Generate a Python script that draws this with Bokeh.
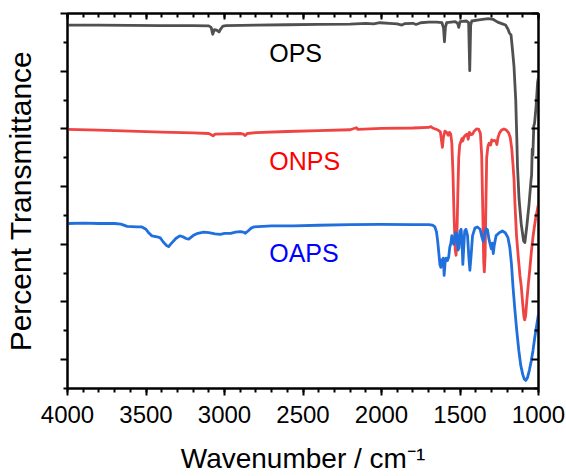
from bokeh.plotting import figure
from bokeh.models import Range1d, FixedTicker, LinearAxis, Label, CustomJSTickFormatter
from bokeh.embed import file_html
from bokeh.resources import INLINE

# ---------------- data ----------------
ops_wavenumber = [4000, 3800, 3600, 3400, 3200, 3100, 3085, 3075, 3065, 3050, 3035, 3025, 3010, 2990,
                  2800, 2600, 2400, 2200, 2100, 2050, 2010, 1950, 1900, 1870, 1850, 1800, 1780, 1750,
                  1700, 1650, 1615, 1605, 1599, 1593, 1585, 1530, 1515, 1508, 1500, 1460, 1445, 1438,
                  1432, 1425, 1380, 1320, 1290, 1260, 1230, 1210, 1195, 1185, 1175, 1165, 1156, 1145,
                  1138, 1134, 1124, 1110, 1095, 1087, 1075, 1060, 1048, 1044, 1040, 1036, 1030, 1025,
                  1015, 1006, 1000]
ops_transmittance = [68.0, 68.0, 67.95, 67.9, 67.9, 67.85, 67.6, 66.4, 67.2, 67.1, 66.8, 67.3, 67.8, 67.9,
                     68.0, 68.05, 68.1, 68.15, 68.3, 68.2, 68.4, 68.3, 68.2, 68.0, 68.25, 68.3, 68.1, 68.4,
                     68.5, 68.5, 68.4, 67.5, 65.1, 67.6, 68.4, 68.6, 68.3, 67.6, 68.6, 68.7, 68.4, 60.1,
                     68.0, 68.7, 68.9, 69.1, 69.0, 68.5, 68.2, 68.0, 67.3, 66.6, 66.3, 63.5, 60.8, 55.0,
                     48.2, 43.6, 37.9, 33.5, 30.6, 30.3, 33.0, 37.0, 41.0, 42.0, 46.5, 45.5, 50.5, 51.0,
                     54.0, 58.0, 59.0]

onps_wavenumber = [4000, 3800, 3600, 3400, 3200, 3100, 3085, 3073, 3060, 3000, 2900, 2880, 2868, 2855,
                   2800, 2600, 2400, 2200, 2160, 2150, 2000, 1800, 1700, 1686, 1670, 1640, 1625, 1618,
                   1612, 1606, 1596, 1585, 1575, 1567, 1559, 1552, 1545, 1538, 1530, 1525, 1520, 1514,
                   1508, 1502, 1494, 1488, 1482, 1475, 1465, 1455, 1448, 1440, 1430, 1420, 1410, 1395,
                   1380, 1370, 1362, 1355, 1349, 1345, 1340, 1335, 1330, 1322, 1315, 1305, 1298, 1290,
                   1280, 1272, 1265, 1258, 1248, 1235, 1220, 1205, 1190, 1180, 1170, 1163, 1156, 1150,
                   1140, 1128, 1118, 1110, 1100, 1093, 1088, 1082, 1075, 1065, 1055, 1045, 1035, 1028,
                   1018, 1006, 1000]
onps_transmittance = [49.9, 49.8, 49.6, 49.45, 49.3, 49.2, 49.0, 48.8, 49.1, 49.15, 49.2, 49.1, 48.85, 49.2,
                      49.35, 49.55, 49.7, 49.85, 50.2, 49.9, 50.1, 50.15, 50.25, 50.4, 50.1, 49.8, 49.5, 48.0,
                      46.8, 48.5, 49.6, 49.4, 48.9, 49.4, 49.1, 47.5, 42.5, 35.0, 29.0, 28.1, 31.0, 38.5,
                      45.0, 47.2, 47.8, 48.3, 47.9, 48.6, 48.9, 49.1, 48.2, 49.4, 49.0, 49.1, 49.6, 50.0,
                      49.9, 49.2, 45.5, 36.0, 27.0, 25.2, 28.0, 37.0, 45.0, 47.0, 47.5, 47.2, 48.1, 47.9,
                      48.0, 47.9, 47.3, 48.5, 49.3, 49.8, 50.0, 49.8, 49.3, 48.5, 46.5, 44.0, 41.3, 37.0,
                      31.5, 27.5, 24.5, 22.8, 19.5, 17.5, 16.9, 17.6, 20.0, 23.0, 25.8, 28.8, 31.3, 32.7,
                      34.5, 36.2, 37.0]

oaps_wavenumber = [4000, 3900, 3800, 3700, 3660, 3620, 3560, 3526, 3500, 3480, 3462, 3430, 3409, 3390,
                   3370, 3356, 3340, 3310, 3285, 3265, 3245, 3228, 3200, 3170, 3133, 3100, 3060, 3026,
                   3000, 2960, 2930, 2900, 2880, 2867, 2850, 2830, 2814, 2700, 2559, 2400, 2200, 2006,
                   1800, 1700, 1675, 1660, 1650, 1642, 1635, 1628, 1622, 1617, 1612, 1606, 1601, 1595,
                   1588, 1580, 1572, 1565, 1558, 1552, 1546, 1540, 1534, 1528, 1520, 1512, 1506, 1500,
                   1493, 1487, 1482, 1477, 1470, 1462, 1452, 1443, 1437, 1430, 1420, 1405, 1389, 1372,
                   1360, 1352, 1344, 1333, 1325, 1315, 1308, 1300, 1294, 1288, 1282, 1270, 1250, 1230,
                   1212, 1195, 1183, 1172, 1162, 1150, 1138, 1125, 1113, 1100, 1090, 1081, 1070, 1058,
                   1046, 1035, 1024, 1012, 1000]
oaps_transmittance = [33.6, 33.65, 33.6, 33.6, 33.5, 33.1, 33.0, 33.0, 32.6, 31.9, 31.45, 31.3, 31.1, 30.4,
                      29.8, 29.6, 30.1, 31.0, 31.45, 31.3, 31.0, 30.9, 31.5, 31.9, 32.1, 32.0, 31.8, 31.7,
                      31.9, 31.9, 32.1, 32.2, 32.1, 31.9, 32.3, 32.8, 33.0, 33.2, 33.2, 33.3, 33.4, 33.45,
                      33.4, 33.4, 33.3, 33.0, 32.2, 30.5, 28.5, 26.5, 26.0, 27.3, 26.8, 27.6, 24.6, 26.8,
                      27.6, 27.2, 27.8, 29.5, 30.2, 31.5, 31.2, 30.0, 30.4, 32.0, 31.8, 29.0, 29.4, 32.2,
                      32.6, 30.5, 26.5, 29.0, 32.3, 32.6, 31.5, 27.5, 25.5, 27.8, 31.5, 32.8, 33.0, 32.6,
                      31.2, 30.5, 31.6, 32.7, 32.5, 30.8, 30.0, 29.2, 30.2, 28.4, 29.8, 31.5, 32.0, 32.3,
                      32.0, 31.2, 29.5, 26.5, 22.5, 18.5, 14.9, 11.5, 9.0, 7.4, 6.6, 6.4, 6.9, 8.2,
                      9.8, 11.6, 13.8, 15.9, 17.9]

series_names = ["OPS", "ONPS", "OAPS"]
label_x = [2715, 2715, 2715]
label_y = [63.1, 44.4, 28.5]

x_major_ticks = [4000, 3500, 3000, 2500, 2000, 1500, 1000]
x_minor_ticks = list(range(1000, 4001, 100))
y_major_ticks = [10, 20, 30, 40, 50, 60, 70]
y_minor_ticks = [5, 15, 25, 35, 45, 55, 65]

x_title = "Wavenumber / cm\u207b\u00b9"
y_title = "Percent Transmittance"

# ---------------- styles ----------------
FONT = "Liberation Sans"
line_colors = ["#505050", "#ef4444", "#1f6fdd"]
label_colors = ["#000000", "#ff0000", "#0000ff"]

p = figure(width=566, height=476, x_range=Range1d(4000, 1000), y_range=Range1d(5, 70),
           output_backend="svg", toolbar_location=None,
           min_border_left=67, min_border_right=28, min_border_top=13, min_border_bottom=85,
           background_fill_color="white", border_fill_color="white")
p.grid.visible = False
p.outline_line_color = "black"
p.outline_line_width = 2

series = [(ops_wavenumber, ops_transmittance), (onps_wavenumber, onps_transmittance),
          (oaps_wavenumber, oaps_transmittance)]
for (xs, ys), c in zip(series, line_colors):
    p.line(xs, ys, line_color=c, line_width=2.8, line_join="round")

for name, lx, ly, c in zip(series_names, label_x, label_y, label_colors):
    p.add_layout(Label(x=lx, y=ly, text=name, text_color=c, text_font=FONT,
                       text_font_size="25px", text_align="left", text_baseline="alphabetic"))

empty = CustomJSTickFormatter(code="return ''")

def style_axis(ax, out_major, out_minor, in_major, in_minor, labels=True):
    ax.axis_line_width = 2
    ax.axis_line_color = "black"
    ax.major_tick_line_width = 2
    ax.minor_tick_line_width = 2
    ax.major_tick_out = out_major
    ax.minor_tick_out = out_minor
    ax.major_tick_in = in_major
    ax.minor_tick_in = in_minor
    if labels:
        ax.major_label_text_font = FONT
        ax.major_label_text_font_size = "24px"
        ax.major_label_text_color = "black"
    else:
        ax.formatter = empty
        ax.major_label_text_font_size = "1px"
        ax.major_label_standoff = 0

def style_title(ax, text, size, standoff):
    ax.axis_label = text
    ax.axis_label_text_font = FONT
    ax.axis_label_text_font_size = size
    ax.axis_label_text_font_style = "normal"
    ax.axis_label_text_color = "black"
    ax.axis_label_standoff = standoff

xb = p.xaxis[0]
xb.ticker = FixedTicker(ticks=x_major_ticks, minor_ticks=x_minor_ticks)
style_axis(xb, 7, 4, 0, 0, labels=True)
xb.major_label_standoff = 10
style_title(xb, x_title, "28px", 17)

yl = p.yaxis[0]
yl.ticker = FixedTicker(ticks=y_major_ticks, minor_ticks=y_minor_ticks)
style_axis(yl, 7, 4, 0, 0, labels=False)
style_title(yl, y_title, "30px", 24)

xt = LinearAxis(ticker=FixedTicker(ticks=x_major_ticks, minor_ticks=x_minor_ticks))
style_axis(xt, 0, 0, 6, 4, labels=False)
p.add_layout(xt, "above")

yr = LinearAxis(ticker=FixedTicker(ticks=y_major_ticks, minor_ticks=y_minor_ticks))
style_axis(yr, 0, 0, 7, 4, labels=False)
p.add_layout(yr, "right")

open("out.html", "w").write(file_html(p, INLINE))
